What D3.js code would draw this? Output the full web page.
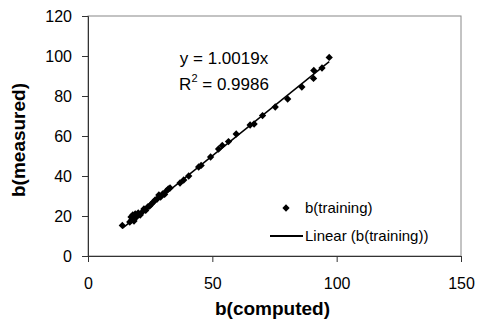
<!DOCTYPE html>
<html>
<head>
<meta charset="utf-8">
<script src="https://d3js.org/d3.v7.min.js"></script>
<style>
    body { margin: 0; background: #fff; font-family: Arial, "Liberation Sans", sans-serif; }
    svg { display: block; }
    .tick text { font-size: 16px; font-family: Arial, "Liberation Sans", sans-serif; fill: #000; }
    .axis-title { font-size: 19px; font-weight: bold; }
    .note { font-size: 17px; }
    .legend text { font-size: 15px; }
</style>
</head>
<body>
<div id="chart"></div>
<script>
// b(computed) vs b(measured), training set
const computed = [13.8, 16.8, 17.3, 17.6, 18.0, 18.5, 19.0, 19.5, 20.2, 21.0, 21.8, 22.5, 23.2, 24.0, 24.8, 25.5, 26.3, 27.0, 27.8, 28.5, 29.2, 30.0, 30.8, 31.5, 32.3, 33.0, 37.0, 38.5, 40.5, 44.5, 45.5, 49.3, 52.5, 54.0, 56.5, 59.6, 65.2, 66.8, 70.2, 75.3, 80.3, 86.0, 90.7, 90.8, 94.1, 97.0];
const measured = [15.3, 17.0, 19.5, 18.0, 20.5, 17.5, 21.0, 19.5, 21.5, 20.5, 22.0, 23.5, 22.8, 24.5, 25.0, 26.0, 27.0, 28.0, 28.5, 30.5, 29.5, 31.0, 30.8, 32.5, 33.5, 34.0, 36.5, 38.0, 40.0, 44.5, 45.3, 49.5, 53.5, 55.3, 57.2, 61.0, 65.5, 66.0, 70.2, 74.5, 78.5, 84.5, 88.8, 92.8, 94.0, 99.3];
const slope = 1.0019;
const xTicks = [0, 50, 100, 150];
const yTicks = [0, 20, 40, 60, 80, 100, 120];

const width = 477, height = 322;
const margin = { top: 16, right: 16, bottom: 66, left: 88 };
const innerWidth = width - margin.left - margin.right;
const innerHeight = height - margin.top - margin.bottom;

const svg = d3.select('#chart').append('svg')
    .attr('width', width)
    .attr('height', height);

const g = svg.append('g')
    .attr('transform', `translate(${margin.left},${margin.top})`);

const xScale = d3.scaleLinear().domain([0, 150]).range([0, innerWidth]);
const yScale = d3.scaleLinear().domain([0, 120]).range([innerHeight, 0]);

// plot area frame
g.append('rect')
    .attr('width', innerWidth)
    .attr('height', innerHeight)
    .attr('fill', 'none')
    .attr('stroke', '#888')
    .attr('stroke-width', 1);

const xAxisG = g.append('g')
    .attr('transform', `translate(0,${innerHeight})`)
    .call(d3.axisBottom(xScale).tickValues(xTicks).tickSize(6).tickPadding(16));
const yAxisG = g.append('g')
    .call(d3.axisLeft(yScale).tickValues(yTicks).tickSize(6).tickPadding(10));
[xAxisG, yAxisG].forEach(a => {
    a.attr('font-family', null).attr('font-size', null);
    a.selectAll('.domain').attr('stroke', '#333');
    a.selectAll('.tick line').attr('stroke', '#333');
});

// trendline
const xMin = d3.min(computed), xMax = d3.max(computed);
g.append('line')
    .attr('x1', xScale(xMin)).attr('y1', yScale(slope * xMin))
    .attr('x2', xScale(xMax)).attr('y2', yScale(slope * xMax))
    .attr('stroke', '#000').attr('stroke-width', 1.5);

const diamond = d3.symbol().type(d3.symbolDiamond2).size(34);
g.selectAll('.pt').data(computed)
    .enter().append('path')
    .attr('class', 'pt')
    .attr('d', diamond)
    .attr('transform', (d, i) => `translate(${xScale(d)},${yScale(measured[i])})`)
    .attr('fill', '#000');

// equation
g.append('text').attr('class', 'note')
    .attr('x', 136).attr('y', 48).attr('text-anchor', 'middle')
    .text('y = 1.0019x');
const r2 = g.append('text').attr('class', 'note')
    .attr('x', 136).attr('y', 74).attr('text-anchor', 'middle');
r2.append('tspan').text('R');
r2.append('tspan').attr('dy', -8).attr('font-size', 11).text('2');
r2.append('tspan').attr('dy', 8).text(' = 0.9986');

// legend
const legend = g.append('g').attr('class', 'legend');
legend.append('path')
    .attr('d', diamond)
    .attr('transform', `translate(${286 - margin.left},${208 - margin.top})`);
legend.append('text').attr('x', 305 - margin.left).attr('y', 213 - margin.top).text('b(training)');
legend.append('line')
    .attr('x1', 270 - margin.left).attr('x2', 303 - margin.left)
    .attr('y1', 236 - margin.top).attr('y2', 236 - margin.top)
    .attr('stroke', '#000').attr('stroke-width', 2);
legend.append('text').attr('x', 305 - margin.left).attr('y', 241 - margin.top).text('Linear (b(training))');

// axis titles
svg.append('text').attr('class', 'axis-title')
    .attr('x', margin.left + innerWidth / 2 - 2).attr('y', 315)
    .attr('text-anchor', 'middle')
    .text('b(computed)');
svg.append('text').attr('class', 'axis-title')
    .attr('transform', `translate(25,${margin.top + innerHeight / 2 + 4}) rotate(-90)`)
    .attr('text-anchor', 'middle')
    .text('b(measured)');
</script>
</body>
</html>
